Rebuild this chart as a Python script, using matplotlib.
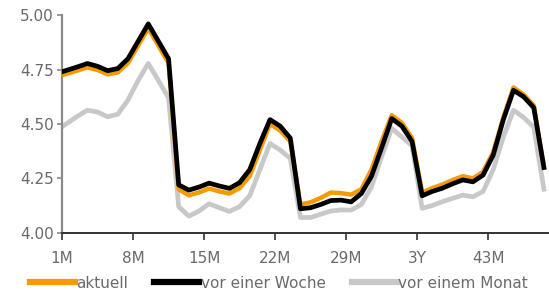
import numpy as np
import matplotlib
matplotlib.use("Agg")
import matplotlib.pyplot as plt

# Laufzeit in Monaten (erster Punkt an der Achse, danach Kategoriemitten)
laufzeit = np.concatenate([[1.0], np.arange(2.5, 49, 1.0)])

aktuell = [4.724, 4.745, 4.760, 4.748, 4.728, 4.737, 4.780, 4.860, 4.940, 4.860,
           4.780, 4.200, 4.172, 4.185, 4.203, 4.190, 4.180, 4.205, 4.260, 4.380,
           4.500, 4.470, 4.420, 4.130, 4.140, 4.160, 4.185, 4.182, 4.175, 4.200,
           4.290, 4.420, 4.540, 4.505, 4.435, 4.185, 4.205, 4.222, 4.242, 4.260,
           4.250, 4.280, 4.370, 4.530, 4.668, 4.635, 4.585, 4.300]

vor_woche = [4.740, 4.762, 4.778, 4.765, 4.745, 4.755, 4.800, 4.880, 4.960, 4.880,
             4.800, 4.220, 4.196, 4.210, 4.228, 4.215, 4.204, 4.230, 4.290, 4.410,
             4.520, 4.490, 4.435, 4.110, 4.115, 4.130, 4.148, 4.150, 4.142, 4.180,
             4.260, 4.390, 4.525, 4.490, 4.420, 4.170, 4.190, 4.205, 4.225, 4.243,
             4.234, 4.265, 4.357, 4.520, 4.655, 4.625, 4.575, 4.300]

vor_monat = [4.487, 4.535, 4.563, 4.555, 4.533, 4.545, 4.610, 4.700, 4.778, 4.700,
             4.620, 4.120, 4.076, 4.100, 4.133, 4.115, 4.098, 4.120, 4.170, 4.290,
             4.410, 4.380, 4.342, 4.070, 4.070, 4.085, 4.100, 4.105, 4.104, 4.130,
             4.210, 4.350, 4.480, 4.440, 4.400, 4.112, 4.125, 4.143, 4.158, 4.173,
             4.165, 4.190, 4.290, 4.440, 4.563, 4.530, 4.485, 4.200]

tick_pos = [1, 8, 15, 22, 29, 36, 43]
tick_lab = ["1M", "8M", "15M", "22M", "29M", "3Y", "43M"]
y_ticks = [4.00, 4.25, 4.50, 4.75, 5.00]

fig = plt.figure(figsize=(5.49, 2.98), dpi=100)
ax = fig.add_axes([0.113, 0.219, 0.887, 0.730])

ax.plot(laufzeit, vor_monat, color="#c8c8c8", lw=3.4, label="vor einem Monat", zorder=2)
ax.plot(laufzeit, aktuell, color="#f59a00", lw=3.2, label="aktuell", zorder=3)
ax.plot(laufzeit, vor_woche, color="#000000", lw=3.4, label="vor einer Woche", zorder=4)

ax.set_xlim(1, 49)
ax.set_ylim(4.0, 5.0)
ax.set_xticks(tick_pos)
ax.set_xticklabels(tick_lab)
ax.set_yticks(y_ticks)
ax.set_yticklabels(["%.2f" % v for v in y_ticks])

for s in ["top", "right"]:
    ax.spines[s].set_visible(False)
ax.spines["left"].set_color("#8a8a8a")
ax.spines["left"].set_linewidth(1.6)
ax.spines["bottom"].set_color("#333333")
ax.spines["bottom"].set_linewidth(1.4)

ax.tick_params(axis="y", direction="out", length=3.5, width=1.2, color="#8a8a8a",
               pad=2.5, labelsize=11, labelcolor="#6a6a6a")
ax.tick_params(axis="x", direction="out", length=5, width=1.2, color="#333333",
               pad=8, labelsize=11, labelcolor="#6a6a6a")

handles, labels = ax.get_legend_handles_labels()
order = [1, 2, 0]
leg = fig.legend([handles[i] for i in order], [labels[i] for i in order],
                 loc="center", bbox_to_anchor=(0.508, 0.05), ncol=3, frameon=False,
                 fontsize=11, handlelength=2.95, handletextpad=0.1, columnspacing=1.7,
                 borderpad=0)
for t in leg.get_texts():
    t.set_color("#6a6a6a")
for h in leg.get_lines():
    h.set_linewidth(4.5)

fig.savefig("out.png", dpi=100)
